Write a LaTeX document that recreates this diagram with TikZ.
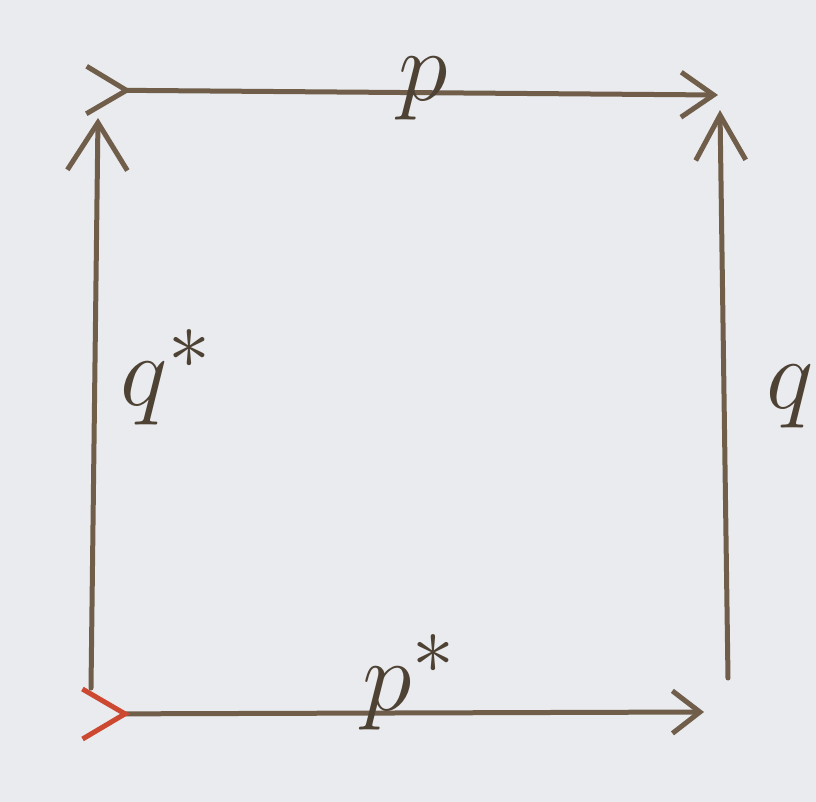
\documentclass[tikz,border=0pt]{standalone}
\usetikzlibrary{arrows.meta}
\definecolor{paper}{RGB}{233,235,238}
\definecolor{ink}{RGB}{112,94,74}
\definecolor{redink}{RGB}{205,72,48}
\begin{document}
\begin{tikzpicture}[x=0.02cm, y=-0.02cm,
		map/.style={ink, line width=0.1cm, line cap=round},
		lbl/.style={font=\Huge, scale=2.3, inner sep=0pt, text=ink!70!black}]
			\fill[paper] (0,0) rectangle (816,802);
			\useasboundingbox (0,0) rectangle (816,802);
			% corners
			\coordinate (A1) at (84,90);
			\coordinate (A2) at (718,95);
			\coordinate (B1) at (80,714);
			\coordinate (B2) at (704,712);
			\coordinate (L1) at (91,688);
			\coordinate (L2) at (98,118);
			\coordinate (R1) at (728,678);
			\coordinate (R2) at (720,110);
			% top and bottom maps
			\draw[map, {Straight Barb[reversed, length=0.8cm, width=0.95cm, line width=0.1cm]}-{Straight Barb[length=0.65cm, width=0.9cm]}] (A1) -- (A2);
			\draw[map, {Straight Barb[reversed, redink, length=0.85cm, width=1.0cm, line width=0.1cm]}-{Straight Barb[length=0.55cm, width=0.85cm]}] (B1) -- (B2);
			% left and right maps
			\draw[map, -{Straight Barb[length=0.95cm, width=1.2cm]}] (L1) -- (L2);
			\draw[map, -{Straight Barb[length=0.9cm, width=1.0cm]}] (R1) -- (R2);
			% labels
			\node[lbl, anchor=base west] (p) at (398,100) {$p$};
			\node[lbl, anchor=base west] (pstar) at (362,710) {$p^{*}$};
			\node[lbl, anchor=base west] (qstar) at (120,405) {$q^{*}$};
			\node[lbl, anchor=base west] (q) at (766,408) {$q$};
	\end{tikzpicture}
\end{document}
